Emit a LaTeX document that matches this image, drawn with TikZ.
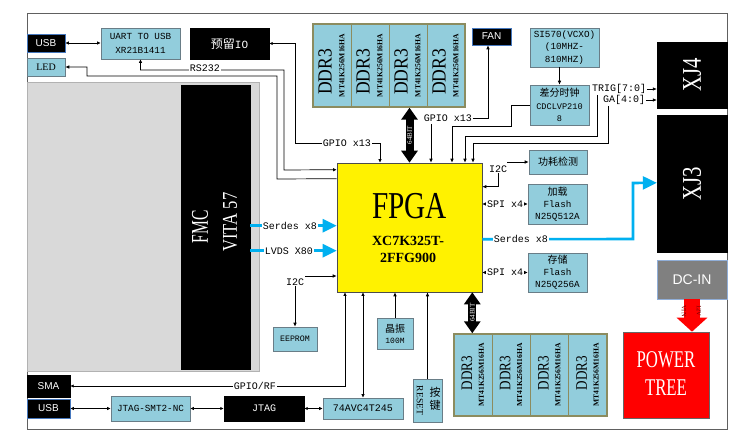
\documentclass[tikz,border=0pt]{standalone}
\usepackage{graphicx}
\usepackage{fontspec}
\setmainfont{Liberation Serif}
\newfontfamily\monof{Liberation Mono}
\newfontfamily\sansf{Liberation Sans}
\newfontfamily\cjkf{Noto Sans CJK SC}
\usetikzlibrary{arrows.meta,calc}
\definecolor{lblue}{RGB}{146,205,220}
\definecolor{bborder}{RGB}{105,125,135}
\definecolor{olv}{RGB}{140,140,95}
\definecolor{cyn}{RGB}{0,176,240}
\definecolor{fmcgray}{RGB}{217,217,217}
\definecolor{dcgray}{RGB}{128,128,128}
\definecolor{usbblue}{RGB}{70,120,190}
\definecolor{dkred}{RGB}{110,0,0}
\newcommand\fsz[2]{\fontsize{#1}{#2}\selectfont}
\newcommand\bx[7]{\node[#2,minimum width={(#5)-(#3)},minimum height={(#6)-(#4)}] (#1) at ({((#3)+(#5))/2},{((#4)+(#6))/2}) {#7};}
\begin{document}
\begin{tikzpicture}[x=1pt,y=-1pt,
  box/.style={draw=bborder,fill=lblue,line width=0.6pt,inner sep=0pt,align=center},
  bkbox/.style={draw=black,fill=black,text=white,inner sep=0pt,align=center},
  lab/.style={font=\monof\fsz{10}{12},inner sep=0.6pt},
  arr/.style={-{Latex[length=4pt,width=3.6pt]},line width=0.7pt},
  dbl/.style={{Latex[length=3.5pt,width=3.4pt]}-{Latex[length=3.5pt,width=3.4pt]},line width=0.7pt},
  cy/.style={draw=cyn,line width=2.6pt,-{Triangle[length=14pt,width=13pt]}},
  big/.style={line width=8pt,{Triangle[length=12pt,width=16pt]}-{Triangle[length=12pt,width=16pt]}},
  bigtxt/.style={rotate=90,text=white,font=\fsz{7}{7},inner sep=0pt},
]
\useasboundingbox (0,0) rectangle (737,435);
\fill[white] (0,0) rectangle (737,435);
\draw[gray!75!black,line width=0.8pt,fill=white] (27,13) rectangle (727,429);

% FMC
\bx{fmc}{draw=gray!60,fill=fmcgray,line width=0.8pt,inner sep=0pt}{27}{82}{259}{371}{}
\bx{fmcin}{bkbox}{181}{85}{250}{369}{}
\node[rotate=90,text=white,font=\fsz{24}{26}] (fmct) at (200,227) {\scalebox{0.65}[1]{FMC}};
\node[rotate=90,text=white,font=\fsz{21}{24}] (vitat) at (230,222) {\scalebox{0.79}[1]{VITA 57}};

% top-left
\bx{usbT}{draw=usbblue,fill=black,text=white,font=\sansf\fsz{10}{12},line width=0.6pt,inner sep=0pt}{27}{34}{65}{52}{USB}
\bx{led}{box,font=\fsz{10}{12}}{27}{58}{65}{76}{LED}
\bx{uart}{box,font=\monof\fsz{9.3}{14}}{101}{28}{180}{59}{UART TO USB\\XR21B1411}
\bx{rsvio}{bkbox,font=\fsz{12}{14}}{190}{28}{269}{59}{{\cjkf 预留}{\monof\fsz{11}{14}IO}}

% top DDR3
\foreach \i in {0,1,2,3} {
  \pgfmathsetmacro\xa{313+38*\i}
  \node[draw=olv,fill=lblue,line width=0.8pt,minimum width=38,minimum height=83,inner sep=0pt] (ddrTbox\i) at (\xa+19,65.5) {};
  \node[rotate=90,font=\fsz{20}{20},inner sep=0pt] (ddrTa\i) at (\xa+12,72) {\scalebox{0.88}[1]{DDR3}};
  \node[rotate=90,font=\bfseries\fsz{7.6}{8},inner sep=0pt] (ddrTb\i) at (\xa+29,65.5) {MT41K256M16HA};
}
\bx{ddrT}{draw=olv,line width=1.4pt,inner sep=0pt}{313}{24}{465}{107}{}

\bx{fan}{draw=usbblue,fill=black,text=white,font=\sansf\fsz{10}{12},line width=0.6pt,inner sep=0pt}{472}{28}{511}{45}{FAN}
\bx{si570}{box,font=\monof\fsz{9.3}{12.5}}{530}{28}{599}{67}{SI570(VCXO)\\(10MHZ-\\810MHZ)}
\bx{cdc}{box,font=\monof\fsz{8.6}{12.5}}{530}{85}{589}{125}{{\cjkf\fsz{10}{12.5}差分时钟}\\CDCLVP210\\8}
\bx{xj4}{bkbox}{657}{42}{727}{108}{}
\node[rotate=90,text=white,font=\fsz{27}{28}] (xj4t) at (692,75) {\scalebox{0.77}[1]{XJ4}};
\bx{xj3}{bkbox}{657}{115}{727}{252}{}
\node[rotate=90,text=white,font=\fsz{27}{28}] (xj3t) at (692,183.5) {\scalebox{0.77}[1]{XJ3}};

% FPGA
\bx{fpga}{draw=gray!60!black,fill=yellow,line width=0.6pt,inner sep=0pt}{337}{163}{482}{292}{}
\node[font=\fsz{38}{40}] (fpgat) at (409.5,206) {\scalebox{0.77}[1]{FPGA}};
\node[font=\bfseries\fsz{14}{17},align=center] (fpgap) at (408,249.5) {XC7K325T-\\2FFG900};

% right boxes
\bx{pwrdet}{box,font=\cjkf\fsz{10}{12}}{529}{150}{587}{174}{功耗检测}
\bx{flash1}{box,font=\monof\fsz{9.3}{12}}{528}{184}{587}{224}{{\cjkf\fsz{10}{12}加载}\\Flash\\N25Q512A}
\bx{flash2}{box,font=\monof\fsz{9.3}{12}}{528}{253}{587}{292}{{\cjkf\fsz{10}{12}存储}\\Flash\\N25Q256A}
\bx{dcin}{draw=usbblue!60,fill=dcgray,text=white,font=\sansf\fsz{14}{16},line width=0.8pt,inner sep=0pt}{657}{260}{727}{299}{DC-IN}
\bx{ptree}{draw=black!60,fill=red,line width=0.6pt,inner sep=0pt}{623}{332}{709}{418}{}
\node[text=white,font=\fsz{24}{28},align=center] (ptreet) at (666,374) {\scalebox{0.7}[1]{POWER}\\\scalebox{0.7}[1]{TREE}};

% bottom DDR3
\foreach \i in {0,1,2,3} {
  \pgfmathsetmacro\xa{454+38.25*\i}
  \node[draw=olv,fill=lblue,line width=0.8pt,minimum width=38.25,minimum height=82,inner sep=0pt] (ddrBbox\i) at (\xa+19.1,375) {};
  \node[rotate=90,font=\fsz{16}{16},inner sep=0pt] (ddrBa\i) at (\xa+13,373) {\scalebox{0.82}[1]{DDR3}};
  \node[rotate=90,font=\bfseries\fsz{7.6}{8},inner sep=0pt] (ddrBb\i) at (\xa+27.5,375) {MT41K256M16HA};
}
\bx{ddrB}{draw=olv,line width=1.4pt,inner sep=0pt}{454}{334}{607}{416}{}

% bottom boxes
\bx{eeprom}{box,font=\monof\fsz{8.3}{10}}{273}{327}{317}{351}{EEPROM}
\bx{xtal}{box,font=\monof\fsz{8}{11}}{377}{318}{413}{349}{{\cjkf\fsz{10}{12}晶振}\\100M}
\bx{reset}{box}{413}{379}{442}{422}{}
\node[rotate=-90,font=\fsz{9.5}{10},inner sep=0pt] (rstt) at (420,400.5) {RESET};
\node[font=\cjkf\fsz{11}{13},align=center,inner sep=0pt] (anjian) at (435,398.5) {按\\键};
\bx{sma}{bkbox,font=\sansf\fsz{10}{12}}{27}{375}{70}{397}{SMA}
\bx{usbB}{draw=usbblue,fill=black,text=white,font=\sansf\fsz{10}{12},line width=0.6pt,inner sep=0pt}{27}{399}{70}{418}{USB}
\bx{jsmt}{box,font=\monof\fsz{9.3}{12}}{111}{396}{190}{421}{JTAG-SMT2-NC}
\bx{jtag}{bkbox,font=\monof\fsz{10}{12}}{224}{396}{304}{421}{JTAG}
\bx{avc}{box,font=\monof\fsz{10}{12}}{323}{398}{403}{419}{74AVC4T245}

% ---------- connectors ----------
\draw[dbl] (usbT.east) -- (usbT.east -| uart.west);
% RS232
\draw[dbl] (uart.south) |- (284,70) -- (284,170) -- ([yshift=-7pt]fpga.north west);
\node[lab,fill=white] (rs232) at (205,68) {RS232};
% LED
\draw[arr] ([yshift=-16pt]fpga.north west) -- (277,179) -- (277,76) -- (87,76) -- (87,67) -- (led.east);
% reserved IO
\coordinate (g1) at (380,143);
\draw[dbl] (rsvio.east) -- (295,43.5) -- (295,143) -- (g1) -- (g1 |- fpga.north);
\node[lab,fill=white] (gpio1) at (347,143) {GPIO x13};
% GPIO x13 / FAN
\node[lab] (gpio2) at (448,118) {GPIO x13};
\draw[arr] (gpio2.east) -| ([xshift=-3.5pt]fan.south);
\coordinate (g2) at (431,124);
\draw[arr] (g2) -- (g2 |- fpga.north);
% CDC
\coordinate (c3) at (452,126);
\draw[arr] (cdc.west) -| (511,126) -- (c3) -- (c3 |- fpga.north);
\draw[arr] (cdc.north |- si570.south) -- (cdc.north);
% TRIG / GA
\node[lab] (trig) at (619,89) {TRIG[7:0]};
\node[lab] (ga) at (624,100) {GA[4:0]};
\draw[arr] (trig.east) -- (trig.east -| xj4.west);
\draw[arr] (ga.east) -- (ga.east -| xj4.west);
\coordinate (trigd) at (597,95);
\coordinate (t1) at (465,136);
\draw[arr] (trigd) |- (t1) -- (t1 |- fpga.north);
\coordinate (gad) at (608,106);
\coordinate (t2) at (473,143);
\draw[arr] (gad) |- (t2) -- (t2 |- fpga.north);
% I2C right
\node[lab] (i2cr) at (498,169) {I2C};
\coordinate (i2cra) at (507,162);
\draw[arr] (i2cra) -- (pwrdet.west);
\draw[arr] (i2cr.south) |- ([yshift=-24pt]fpga.north east);
% SPI
\draw[dbl] (flash1.west -| fpga.east) -- (flash1.west) node[midway,lab,fill=white] (spi1) {SPI x4};
\draw[dbl] (flash2.west -| fpga.east) -- (flash2.west) node[midway,lab,fill=white] (spi2) {SPI x4};
% Serdes right
\coordinate (sr) at ([yshift=53pt]fpga.south east);
\coordinate (xr) at ([yshift=-68pt]xj3.north west);
\draw[cy] (sr) -- (633,239) -- (633,183) -- (xr);
\node[lab,fill=white] (sd2) at (521,239) {Serdes x8};
% Serdes / LVDS left
\coordinate (sl) at ([yshift=-63pt]fpga.north west);
\draw[cy] (sl -| fmcin.east) -- (sl);
\node[lab,fill=white] (sd1) at (290,226) {Serdes x8};
\coordinate (ll) at ([yshift=-88pt]fpga.north west);
\draw[cy] (ll -| fmcin.east) -- (ll);
\node[lab,fill=white] (lvds) at (289,251) {LVDS X80};
% I2C left
\node[lab] (i2cl) at (295,282) {I2C};
\coordinate (il) at (305,276);
\draw[arr] (il) -- (il -| fpga.west);
\draw[arr] (i2cl.south) -- (i2cl.south |- eeprom.north);
% GPIO/RF
\coordinate (gr) at (345,386);
\draw[dbl] (sma.east) -- (gr) -- (gr |- fpga.south);
\node[lab,fill=white] (gpiorf) at (255,386) {GPIO/RF};
% bottom chain
\draw[dbl] (usbB.east) -- (jsmt.west);
\draw[dbl] (jsmt.east) -- (jtag.west);
\draw[dbl] (jtag.east) -- (avc.west);
\draw[dbl] (avc.north) -- (avc.north |- fpga.south);
\draw[arr] (xtal.north) -- (xtal.north |- fpga.south);
\draw[arr] (reset.north) -- (reset.north |- fpga.south);
% 64 bit buses
\draw[big] (fpga.north |- ddrT.south) -- (fpga.north) node[midway,bigtxt] (b64t) {64BIT};
\coordinate (b64) at ([xshift=-10pt]fpga.south east);
\draw[big] (b64) -- (b64 |- ddrB.north) node[midway,bigtxt] (b64b) {64BIT};
% power arrow
\draw[draw=red,line width=16pt,-{Triangle[length=14pt,width=30pt]}] (dcin.south) -- (dcin.south |- ptree.north);
\node[rotate=-90,text=dkred,font=\fsz{6.5}{7},inner sep=0pt] (vin) at (684,311) {VIN};
\node[rotate=-90,text=dkred,font=\fsz{6.5}{7},inner sep=0pt] (v12) at (699,311) {12V};
\end{tikzpicture}
\end{document}
